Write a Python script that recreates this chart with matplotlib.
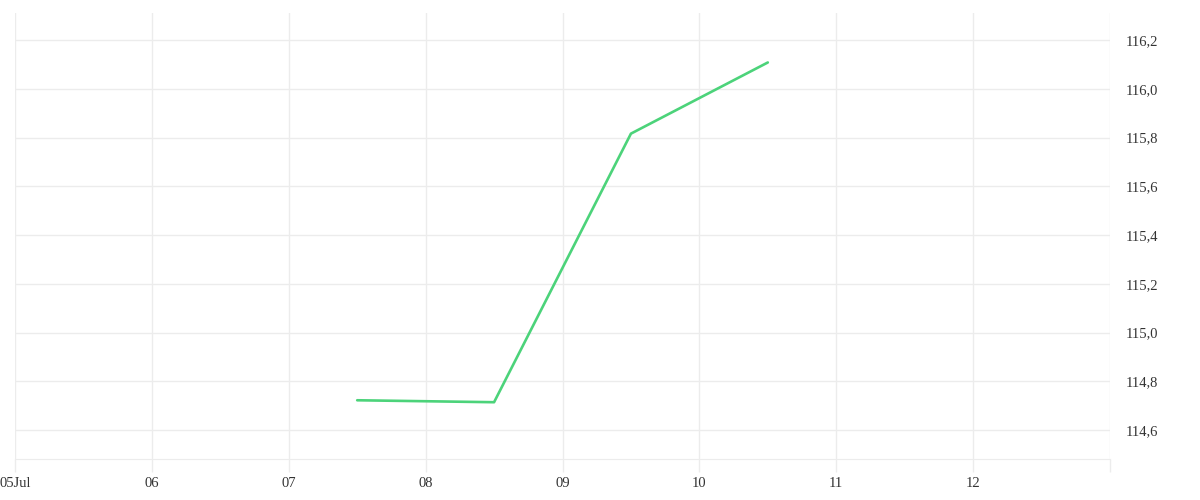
import matplotlib
matplotlib.use("Agg")
import matplotlib.pyplot as plt
import matplotlib.dates as mdates
import matplotlib.ticker as mticker
import pandas as pd

# ============== data ==============
times = ["2023-07-07 12:00", "2023-07-08 12:00", "2023-07-09 12:00", "2023-07-10 12:00"]
values = [114.722, 114.714, 115.816, 116.108]
tick_days = ["2023-07-05", "2023-07-06", "2023-07-07", "2023-07-08",
             "2023-07-09", "2023-07-10", "2023-07-11", "2023-07-12", "2023-07-13"]
y_ticks = [114.6, 114.8, 115.0, 115.2, 115.4, 115.6, 115.8, 116.0, 116.2]

plt.rcParams['font.family'] = ['Liberation Serif', 'DejaVu Serif']
grid_col = "#ececec"
text_col = "#333333"

x = pd.to_datetime(times)
ticks = pd.to_datetime(tick_days)

fig = plt.figure(figsize=(12, 5), dpi=100)
ax = fig.add_axes([15 / 1200, 1 - 459 / 500, (1110 - 15) / 1200, (459 - 13) / 500])

ax.plot(x, values, color="#4cd37a", linewidth=1.9, solid_capstyle="round")

ax.set_xlim(ticks[0], ticks[-1])
ax.set_ylim(114.481, 116.311)

ax.set_xticks(ticks)


def day_label(v, pos):
    d = mdates.num2date(v)
    if pos == 0:
        return d.strftime("%d%b")
    if d.day == 13:
        return ""
    return d.strftime("%d")


ax.xaxis.set_major_formatter(mticker.FuncFormatter(day_label))
ax.set_yticks(y_ticks)
ax.yaxis.set_major_formatter(mticker.FuncFormatter(lambda v, p: f"{v:.1f}".replace(".", ",")))
ax.yaxis.tick_right()

ax.grid(True, color=grid_col, linewidth=1)
ax.set_axisbelow(True)
for s in ["top", "left", "right"]:
    ax.spines[s].set_visible(False)
ax.spines["bottom"].set_color(grid_col)
ax.tick_params(axis="x", length=9, color=grid_col, width=1, pad=4, labelsize=10.5, labelcolor=text_col)
ax.tick_params(axis="y", length=0, pad=11, labelsize=10.5, labelcolor=text_col)

fig.savefig("out.png", dpi=100)
